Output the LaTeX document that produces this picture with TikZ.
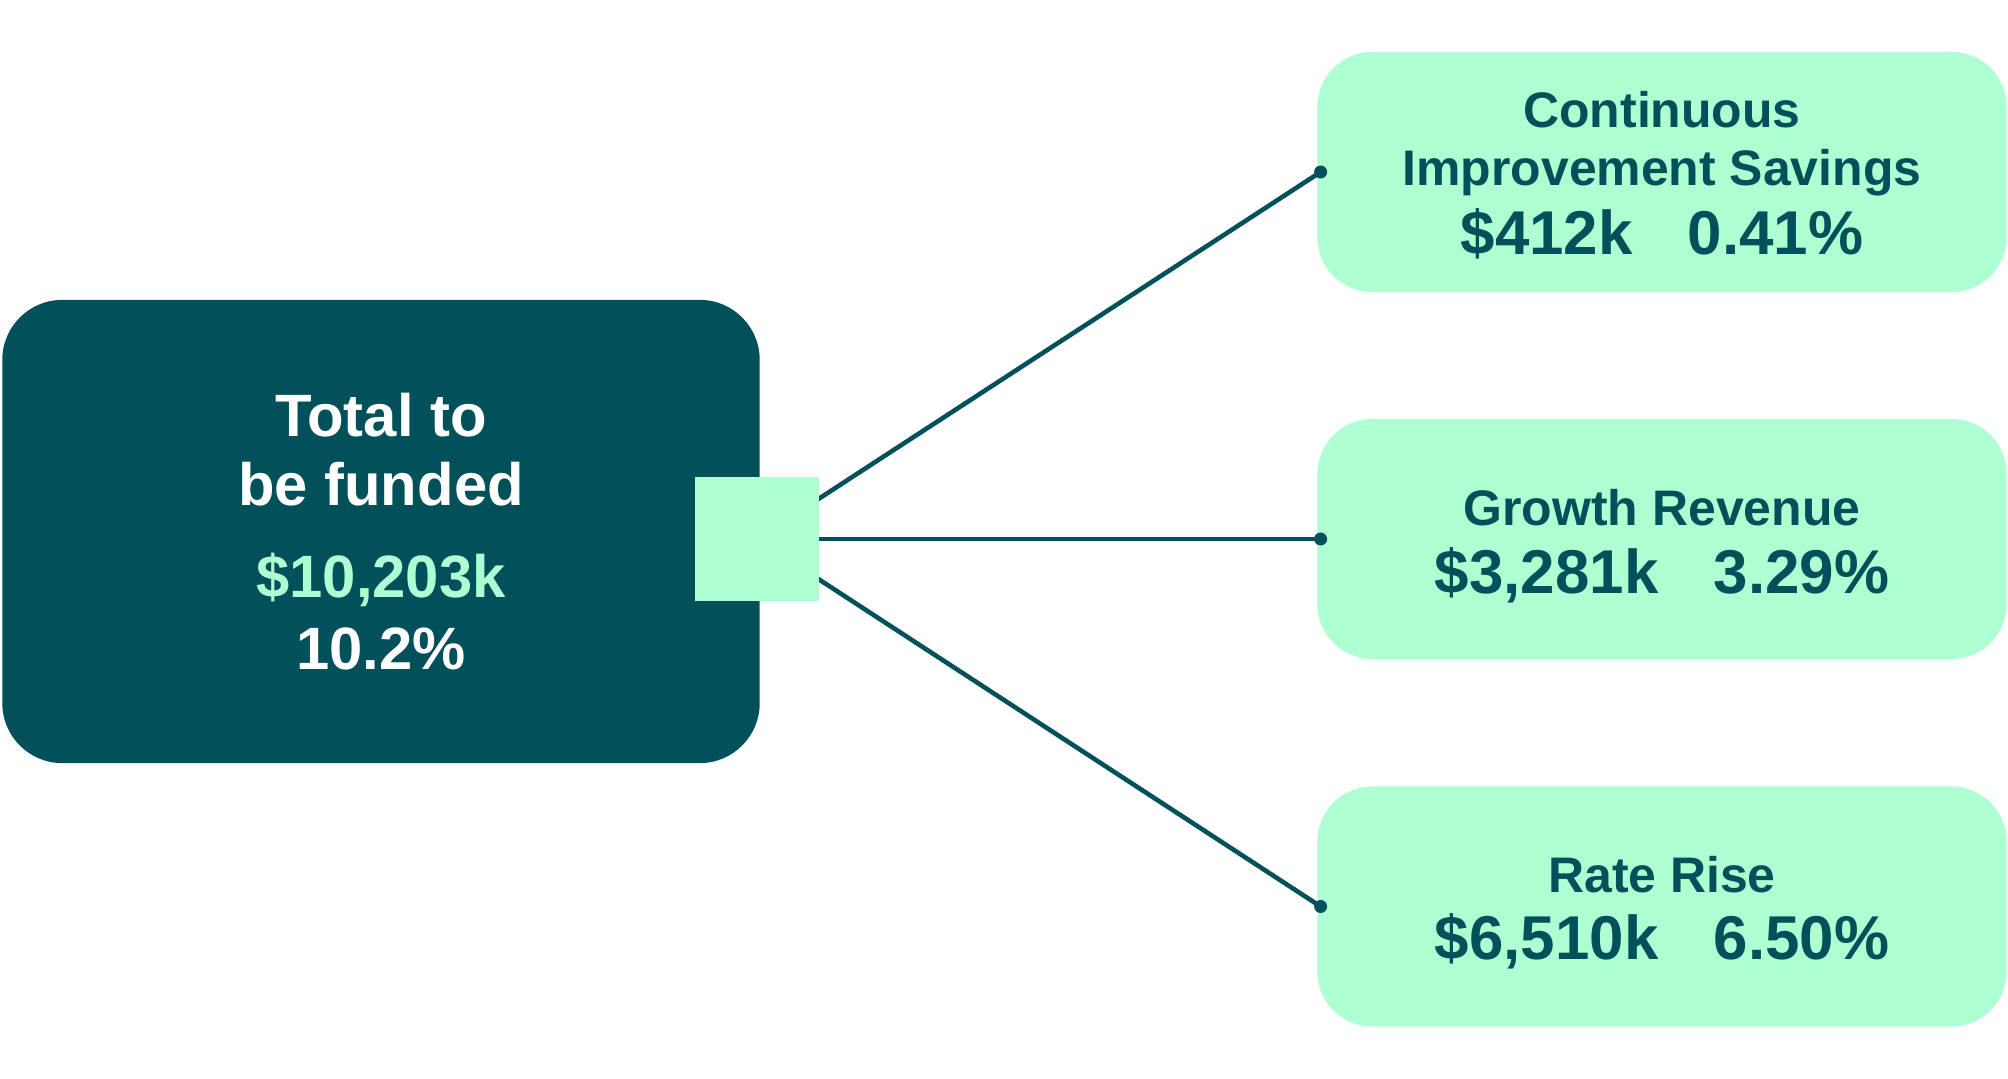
\documentclass[tikz,border=0pt]{standalone}
\usepackage{fontspec}
\setmainfont{Liberation Sans}
\definecolor{tealdark}{HTML}{02505A}
\definecolor{mint}{HTML}{AEFFD1}
\newcommand\valtext[1]{{\fontsize{17.6}{20}\selectfont #1}}
\begin{document}
\begin{tikzpicture}[x=0.01cm, y=-0.01cm,
    bigbox/.style={fill=tealdark, rounded corners=0.6cm, minimum width=7.57cm, minimum height=4.63cm,
      text=white, align=center, inner sep=0pt, font=\bfseries\fontsize{17}{19.6}\selectfont},
    partbox/.style={fill=mint, rounded corners=0.55cm, minimum width=6.89cm, minimum height=2.40cm,
      text=tealdark, align=center, inner sep=0pt, font=\bfseries\fontsize{14.2}{16.5}\selectfont},
    hubsq/.style={fill=mint, minimum size=1.23cm, inner sep=0pt},
    link/.style={draw=tealdark, line width=1.3pt},
    dot/.style={fill=tealdark, circle, inner sep=0pt, minimum size=0.13cm}]
    \useasboundingbox (0,0) rectangle (2008,1079);
    \node[bigbox] (total) at (381,531.5) {Total to\\ be funded\\[6.5pt] {\color{mint}\$10,203k}\\[1pt] 10.2\%};
    \node[partbox] (ci) at (1662,172) {\rule{0pt}{12pt}Continuous\\ Improvement Savings\\[3.2pt] \valtext{\$412k\hspace{0.55cm}0.41\%}};
    \node[partbox] (gr) at (1662,539) {\rule{0pt}{14.4pt}Growth Revenue\\[2.9pt] \valtext{\$3,281k\hspace{0.55cm}3.29\%}};
    \node[partbox] (rr) at (1662,906.5) {\rule{0pt}{13.7pt}Rate Rise\\[2.4pt] \valtext{\$6,510k\hspace{0.55cm}6.50\%}};
    \coordinate (hubc) at (757,539);
    % links run from the hub centre, square drawn on top
    \foreach \p in {ci,gr,rr} {
        \node[dot] (\p-dot) at ([xshift=0.04cm]\p.west) {};
        \draw[link] (hubc) -- (\p-dot.center);
    }
    \node[hubsq] (hub) at (hubc) {};
\end{tikzpicture}
\end{document}
